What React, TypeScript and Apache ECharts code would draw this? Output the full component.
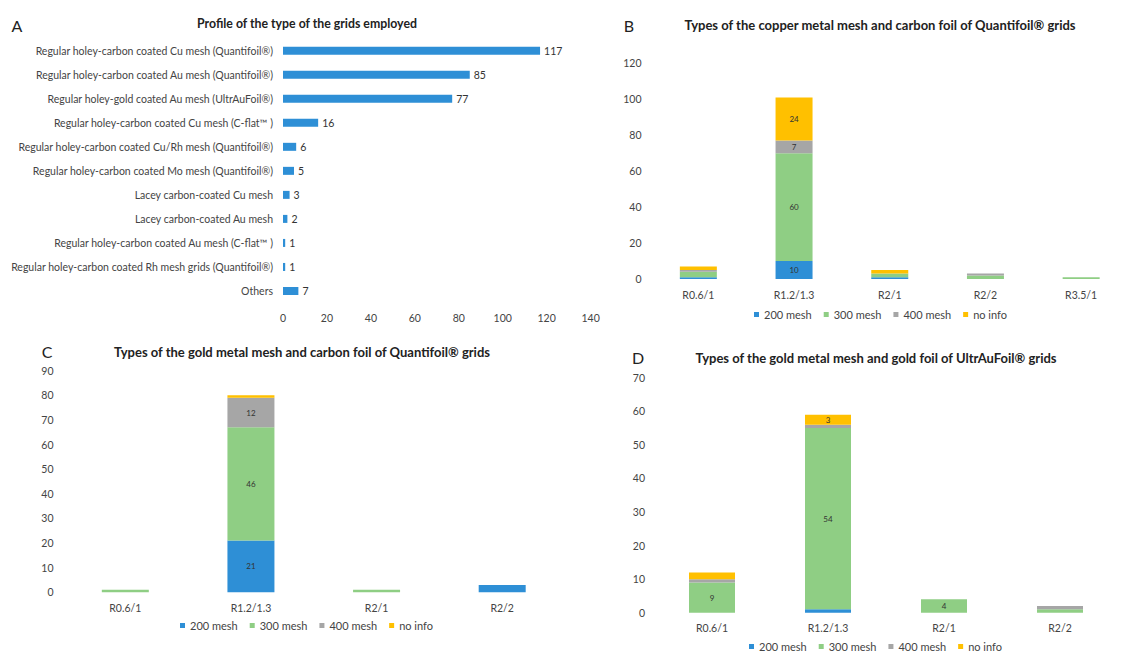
import React, { useEffect, useRef } from "react";
import * as echarts from "echarts";

// ---------- Panel A ----------
const gridTypes = [
  "Regular holey-carbon coated Cu mesh (Quantifoil®)",
  "Regular holey-carbon coated Au mesh (Quantifoil®)",
  "Regular holey-gold coated Au mesh (UltrAuFoil®)",
  "Regular holey-carbon coated Cu mesh (C-flat™ )",
  "Regular holey-carbon coated Cu/Rh mesh (Quantifoil®)",
  "Regular holey-carbon coated Mo mesh (Quantifoil®)",
  "Lacey carbon-coated Cu mesh",
  "Lacey carbon-coated Au mesh",
  "Regular holey-carbon coated Au mesh (C-flat™ )",
  "Regular holey-carbon coated Rh mesh grids (Quantifoil®)",
  "Others",
];
const gridCounts = [117, 85, 77, 16, 6, 5, 3, 2, 1, 1, 7];

// ---------- Panel B (copper mesh, Quantifoil) ----------
const catsB = ["R0.6/1", "R1.2/1.3", "R2/1", "R2/2", "R3.5/1"];
const b200 = [1, 10, 1, 0, 0];
const b300 = [3, 60, 2, 2, 1];
const b400 = [1, 7, 0, 1, 0];
const bNoInfo = [2, 24, 2, 0, 0];

// ---------- Panel C (gold mesh, Quantifoil) ----------
const catsC = ["R0.6/1", "R1.2/1.3", "R2/1", "R2/2"];
const c200 = [0, 21, 0, 3];
const c300 = [1, 46, 1, 0];
const c400 = [0, 12, 0, 0];
const cNoInfo = [0, 1, 0, 0];

// ---------- Panel D (gold mesh, UltrAuFoil) ----------
const catsD = ["R0.6/1", "R1.2/1.3", "R2/1", "R2/2"];
const d200 = [0, 1, 0, 0];
const d300 = [9, 54, 4, 1];
const d400 = [1, 1, 0, 1];
const dNoInfo = [2, 3, 0, 0];

const meshNames = ["200 mesh", "300 mesh", "400 mesh", "no info"];
const meshColors = ["#2e8fd6", "#8fce84", "#a6a6a6", "#ffc000"];

const FONT = "Lato";

export default function App() {
  const ref = useRef<HTMLDivElement>(null);

  useEffect(() => {
    if (!ref.current) return;
    const chart = echarts.init(ref.current, undefined, { renderer: "svg" });

    const segLabel = (minVal: number) => ({
      show: true,
      position: "inside" as const,
      fontFamily: FONT,
      fontSize: 8,
      color: "#333",
      formatter: (p: any) => (p.value >= minVal ? String(p.value) : ""),
    });

    const stacked = (
      panel: string,
      axis: number,
      arrays: number[][],
      barWidth: number,
      minVal: number
    ) =>
      arrays.map((arr, i) => ({
        type: "bar",
        name: meshNames[i],
        stack: panel,
        xAxisIndex: axis,
        yAxisIndex: axis,
        barWidth,
        data: arr,
        itemStyle: { color: meshColors[i] },
        label: segLabel(minVal),
      }));

    const catAxis = (gridIndex: number, data: string[], margin: number) => ({
      type: "category",
      gridIndex,
      data,
      axisLine: { show: false },
      axisTick: { show: false },
      axisLabel: { color: "#444", fontFamily: FONT, fontSize: 10.5, margin },
    });
    const valAxis = (gridIndex: number, max: number, interval: number) => ({
      type: "value",
      gridIndex,
      min: 0,
      max,
      interval,
      axisLine: { show: false },
      axisTick: { show: false },
      splitLine: { show: false },
      axisLabel: { color: "#444", fontFamily: FONT, fontSize: 10.5, margin: 9 },
    });

    const legend = (left: number, cy: number) => ({
      data: meshNames,
      left,
      top: cy - 6,
      orient: "horizontal",
      icon: "rect",
      itemWidth: 5,
      itemHeight: 5,
      itemGap: 12,
      padding: 0,
      textStyle: { color: "#444", fontFamily: FONT, fontSize: 11 },
    });

    const title = (text: string, cx: number, cy: number, size: number) => ({
      text,
      left: cx,
      top: cy - size / 2 - 1,
      textAlign: "center",
      padding: 0,
      textStyle: { fontFamily: FONT, fontSize: size, fontWeight: "bold", color: "#222" },
    });

    const letter = (t: string, x: number, y: number) => ({
      type: "text",
      x,
      y,
      style: {
        text: t,
        fontFamily: FONT,
        fontSize: 16,
        fill: "#222",
        align: "center",
        verticalAlign: "middle",
      },
    });

    chart.setOption({
      animation: false,
      backgroundColor: "#ffffff",
      title: [
        title("Profile of the type of the grids employed", 307, 25, 12.3),
        title("Types of the copper metal mesh and carbon foil of Quantifoil® grids", 880, 26, 13),
        title("Types of the gold metal mesh and carbon foil of Quantifoil® grids", 302, 353, 13),
        title("Types of the gold metal mesh and gold foil of UltrAuFoil® grids", 876, 359, 13),
      ],
      graphic: [
        letter("A", 17, 25),
        letter("B", 629, 25),
        letter("C", 47, 351),
        letter("D", 638, 357),
      ],
      legend: [legend(754, 315), legend(180, 626), legend(749, 647)],
      grid: [
        { left: 283, top: 38.7, width: 307.6, height: 264.3 },
        { left: 650.5, top: 63.3, width: 485, height: 215.7 },
        { left: 62.5, top: 370.7, width: 502.5, height: 221.6 },
        { left: 654, top: 377.7, width: 464, height: 235 },
      ],
      xAxis: [
        valAxis(0, 140, 20),
        catAxis(1, catsB, 10),
        catAxis(2, catsC, 10),
        catAxis(3, catsD, 10),
      ],
      yAxis: [
        {
          ...catAxis(0, gridTypes, 10),
          inverse: true,
          axisLabel: { color: "#444", fontFamily: FONT, fontSize: 10.5, margin: 10 },
        },
        valAxis(1, 120, 20),
        valAxis(2, 90, 10),
        valAxis(3, 70, 10),
      ],
      series: [
        {
          type: "bar",
          name: "Grid type",
          xAxisIndex: 0,
          yAxisIndex: 0,
          barWidth: 8,
          data: gridCounts,
          itemStyle: { color: "#2e8fd6" },
          label: {
            show: true,
            position: "right",
            distance: 4,
            fontFamily: FONT,
            fontSize: 10.5,
            color: "#333",
          },
        },
        ...stacked("B", 1, [b200, b300, b400, bNoInfo], 37, 5),
        ...stacked("C", 2, [c200, c300, c400, cNoInfo], 47, 4),
        ...stacked("D", 3, [d200, d300, d400, dNoInfo], 46, 3),
      ],
    });

    return () => chart.dispose();
  }, []);

  return (
    <div
      ref={ref}
      style={{ position: "absolute", left: 0, top: 0, width: 1129, height: 652 }}
    />
  );
}
